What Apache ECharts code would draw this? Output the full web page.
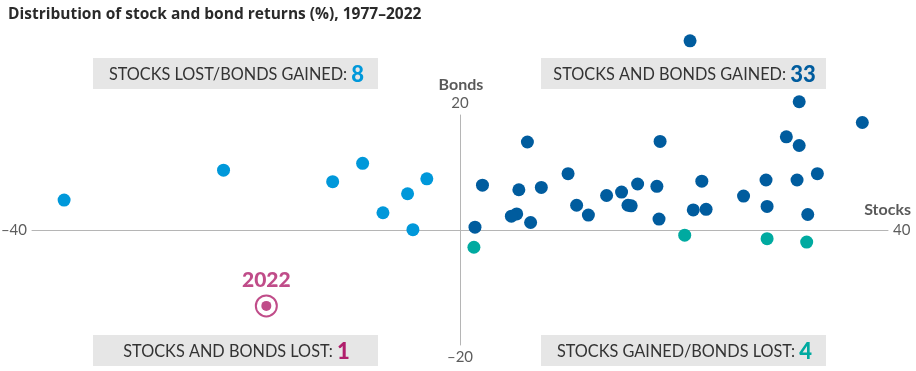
<!DOCTYPE html>
<html>
<head>
<meta charset="utf-8">
<script src="https://cdn.jsdelivr.net/npm/echarts@6/dist/echarts.min.js"></script>
<style>
html,body{margin:0;padding:0;background:#fff;}
#chart{width:916px;height:371px;}
</style>
</head>
<body>
<div id="chart"></div>
<script>
// ---- Data (stock return %, bond return %) ----
const titleText = 'Distribution of stock and bond returns (%), 1977–2022';

// Stocks and bonds gained
const gainedStocks = [21.5,31.7,37.6,30.5,31.7,6.3,18.7,10.1,33.4,28.6,31.5,22.6,16.6,2.1,18.4,7.6,5.5,15.1,13.7,26.5,15.7,16.0,10.9,28.7,23.0,21.8,5.3,32.5,12.0,4.8,18.6,6.6,1.4];
const gainedBonds  = [32.9,22.3,18.7,16.2,14.7,15.3,15.4,9.8,9.8,8.7,8.7,8.5,8.0,7.8,7.6,7.4,7.0,6.6,6.0,5.9,4.3,4.2,4.3,4.1,3.6,3.5,2.8,2.7,2.6,2.4,1.9,1.3,0.5];

// Stocks lost / bonds gained
const stocksLostStocks = [-37.0,-22.1,-11.9,-9.1,-7.2,-4.9,-3.1,-4.4];
const stocksLostBonds  = [5.2,10.4,8.4,11.6,3.0,6.3,8.9,0.05];

// Stocks gained / bonds lost
const bondsLostStocks = [1.3,21.0,28.7,32.4];
const bondsLostBonds  = [-3.0,-0.9,-1.5,-2.1];

// Stocks and bonds lost (2022)
const bothLostStocks = [-18.1];
const bothLostBonds  = [-13.2];
const highlightYear = '2022';

// Axis ticks & names
const xTicks = [-40, 40];
const yTicks = [20, -20];
const xName = 'Stocks';
const yName = 'Bonds';

// Quadrant annotations
const quadrantText = ['STOCKS LOST/BONDS GAINED: ', 'STOCKS AND BONDS GAINED: ', 'STOCKS AND BONDS LOST: ', 'STOCKS GAINED/BONDS LOST: '];
const quadrantCount = [8, 33, 1, 4];

// ---- Styling ----
const FONT = 'Lato, "Noto Sans", sans-serif';
const C_DARK = '#005c9e';
const C_LIGHT = '#0098da';
const C_TEAL = '#00aaa0';
const C_MAG = '#b01f6c';
const AXIS_C = '#b5b5b5';
const TXT = '#333333';

function pairs(xs, ys){ return xs.map((x,i)=>[x, ys[i]]); }
const fmtNum = v => (v < 0 ? '–' + Math.abs(v) : String(v));

const chart = echarts.init(document.getElementById('chart'), null, {renderer:'canvas'});

const boxes = [
  {x:93,  y:58,  color:C_LIGHT},
  {x:541, y:58,  color:C_DARK},
  {x:93,  y:335, color:C_MAG},
  {x:541, y:335, color:C_TEAL}
];
const BW = 285, BH = 31;
const graphic = [];
boxes.forEach((b,i)=>{
  graphic.push({type:'rect', left:b.x, top:b.y, shape:{width:BW,height:BH}, style:{fill:'#e6e6e6'}, z:1, silent:true});
  graphic.push({
    type:'text', x:b.x + BW/2 + 1, y:b.y + BH/2 + 1, z:2, silent:true,
    style:{
      text:'{t|' + quadrantText[i] + '}{n|' + quadrantCount[i] + '}',
      align:'center', verticalAlign:'middle',
      rich:{
        t:{fontFamily:FONT, fontSize:16.3, fill:TXT},
        n:{fontFamily:FONT, fontSize:22, fontWeight:900, fill:b.color}
      }
    }
  });
});

const labelBase = {fontFamily:FONT, fontSize:15, color:TXT};
const nameStyle = {fontFamily:FONT, fontSize:16, fontWeight:'bold', color:'#2f2f2f'};
const tickData = [
  {value:[xTicks[0],0], label:{show:true, position:'inside', align:'right', offset:[-5,0], formatter:fmtNum(xTicks[0]), ...labelBase}},
  {value:[xTicks[1],0], label:{show:true, position:'inside', align:'left', offset:[5,0], formatter:fmtNum(xTicks[1]), ...labelBase}},
  {value:[xTicks[1],0], label:{show:true, position:'inside', align:'right', offset:[23,-20], formatter:xName, ...nameStyle}},
  {value:[0,yTicks[0]], label:{show:true, position:'inside', align:'center', offset:[0,-12], formatter:fmtNum(yTicks[0]), ...labelBase}},
  {value:[0,yTicks[1]], label:{show:true, position:'inside', align:'center', offset:[0,12], formatter:fmtNum(yTicks[1]), ...labelBase}},
  {value:[0,yTicks[0]], label:{show:true, position:'inside', align:'center', offset:[1,-30], formatter:yName, ...nameStyle}}
];

const dot = (name, xs, ys, color) => ({
  name, type:'scatter', data:pairs(xs, ys), symbol:'circle', symbolSize:13, clip:false,
  itemStyle:{color, opacity:1}, z:5, silent:true
});

const option = {
  animation:false,
  backgroundColor:'#fff',
  title:{
    text:titleText, left:3, top:2,
    textStyle:{fontFamily:'"Open Sans", Lato, sans-serif', fontSize:15.5, fontWeight:'bold', color:'#2a2a2a'}
  },
  grid:{left:32, right:28, top:115, bottom:26, containLabel:false},
  xAxis:{
    type:'value', min:-40, max:40, interval:40,
    axisLine:{show:true, onZero:true, lineStyle:{color:AXIS_C, width:1}},
    axisTick:{show:false}, axisLabel:{show:false}, splitLine:{show:false}
  },
  yAxis:{
    type:'value', min:-20, max:20, interval:20,
    axisLine:{show:true, onZero:true, lineStyle:{color:AXIS_C, width:1}},
    axisTick:{show:false}, axisLabel:{show:false}, splitLine:{show:false}
  },
  graphic,
  series:[
    {name:'ticks', type:'scatter', data:tickData, symbolSize:1, clip:false, itemStyle:{color:'rgba(0,0,0,0)'}, silent:true, z:3},
    dot('Stocks and bonds gained', gainedStocks, gainedBonds, C_DARK),
    dot('Stocks lost/bonds gained', stocksLostStocks, stocksLostBonds, C_LIGHT),
    dot('Stocks gained/bonds lost', bondsLostStocks, bondsLostBonds, C_TEAL),
    {
      name:'Stocks and bonds lost ring', type:'scatter', data:pairs(bothLostStocks, bothLostBonds),
      symbol:'circle', symbolSize:21, clip:false,
      itemStyle:{color:'#fff', borderColor:C_MAG, borderWidth:2}, z:5, silent:true,
      label:{show:true, position:'top', distance:4, formatter:highlightYear,
        fontFamily:FONT, fontSize:21, fontWeight:900, color:C_MAG}
    },
    {
      name:'Stocks and bonds lost', type:'scatter', data:pairs(bothLostStocks, bothLostBonds),
      symbol:'circle', symbolSize:10, clip:false, itemStyle:{color:C_MAG}, z:6, silent:true
    }
  ]
};
chart.setOption(option);
</script>
</body>
</html>
